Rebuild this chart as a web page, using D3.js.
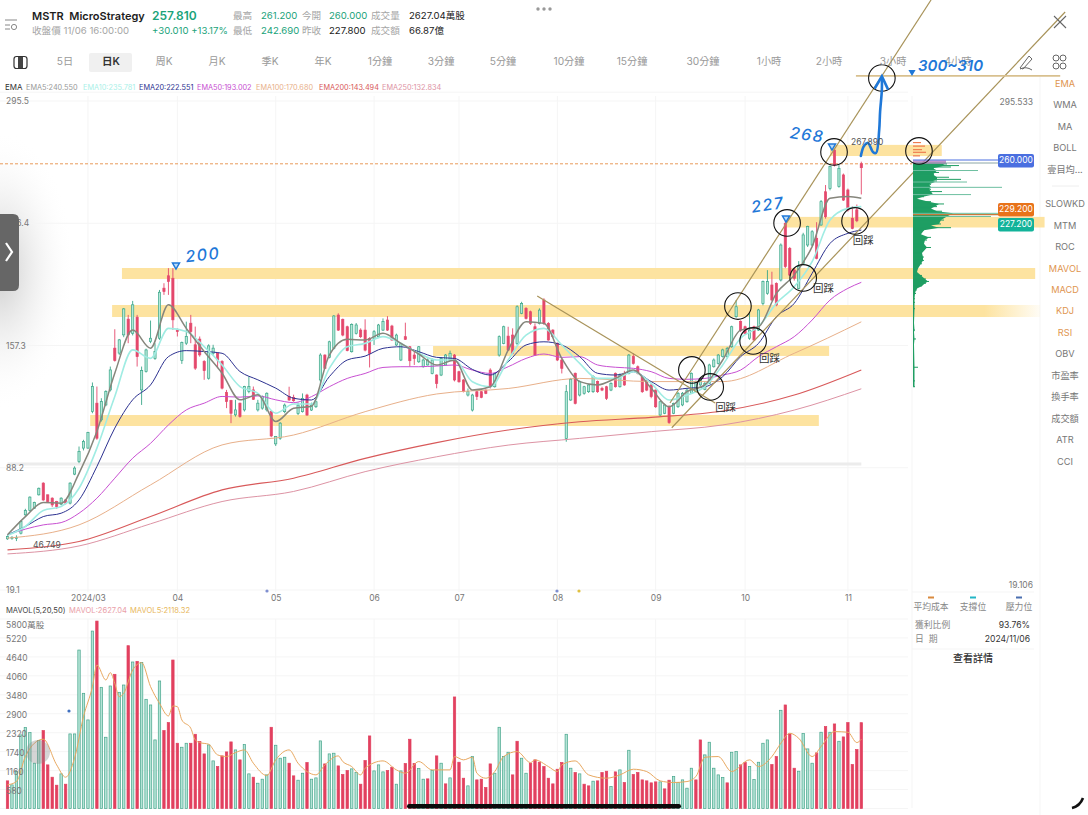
<!DOCTYPE html>
<html>
<head>
<meta charset="utf-8">
<script src="https://cdn.jsdelivr.net/npm/d3@7"></script>
<style>
html,body{margin:0;padding:0;background:#fff;overflow:hidden}
text{font-family:Inter,"Noto Sans CJK TC",sans-serif}
</style>
</head>
<body>
<div id="the_svg_wrap"></div>
<script>
// candles, one trading day per slot
const opens = [
48,48.5,48.2,51.2,61.6,64,65.3,72.9,79.5,72.9,
71,69.1,67.6,70,68.2,84.6,91.7,99.3,99.3,120,
124.7,115.3,123.7,132.2,155.8,153,163.3,172.2,164.2,173.3,
132.2,142.6,159.5,150,161.4,189.7,196.7,195.3,166.1,148.8,
158.6,169.9,157.7,160.9,148.2,138.8,152.9,152.9,148.2,130.7,
126.2,118.1,124.7,120.9,131.3,132.2,120.9,121.9,120.9,120,
101.7,104.9,119.9,128.4,128,118.9,119.9,129.3,120.8,122.7,
137.8,151.9,150.6,155.7,174.5,172.1,167.9,153.8,164.2,166,
166,161.3,161.3,162.3,166,171.7,168.3,157.6,149.1,162.3,
156.6,151.9,148.1,145.3,146.3,141.5,140.6,140.6,146.3,149.1,
151.9,142.5,137.8,129.3,120.8,131.2,131.2,132.1,143.4,134,
151.9,158.5,162.6,163.2,158.5,175.5,178.3,176.4,167.9,169.8,
183,169.8,166,158.5,149.1,104.8,126.5,141.6,129.3,130.3,
131.2,131.2,136.9,133.1,134,132.1,141.6,134,141.6,141.6,
151,145.3,139.7,137.4,135,132.1,118,119,122.7,119,
122.7,123.7,125.5,130.3,131.2,135,132.5,135.9,145.3,147.2,
151,151,156.6,173.6,170.8,167.9,161.4,167.9,166,181.1,
186.8,191.5,192.4,194.3,226.3,212.2,200,189.6,203.7,214.1,
214.1,217.9,225.4,244.2,246.1,267.8,247.1,253.7,245.2,229.2,
234,260];
const closes = [
49.3,48.9,48.8,57.8,64,71.6,68.5,76.6,70,69.1,
67.2,66.3,71,68.2,79.5,88,97.4,103,108.1,134.1,
104.9,125.6,131.3,143.5,148.8,160.5,178,163.3,180.3,151,
143.1,154.8,161.4,154,187.4,187.8,193.5,171.8,165.2,159,
162.4,165.2,144.5,152,143.1,157.1,155.8,149.2,133.2,125.6,
119,120.9,117.1,134.1,134.1,126.9,124.7,128.5,130.3,106.2,
105.8,113.4,123.6,126.5,126.1,123.6,127.4,118,123.6,125.5,
151.9,144.4,159.4,174,166,163.2,154.4,169.2,168.9,162.3,
154.7,152.9,165.1,168.9,170.8,166,160.4,163.2,158.5,160.8,
148.7,150,156.6,149.1,149.1,149.1,135.9,150,151.9,152.9,
137.8,136.8,131.2,131.2,129.3,128.4,128,130.2,134,141.5,
162.3,167.9,154.7,152.9,179.2,181.1,172.6,169.8,151.9,177.3,
169.8,160.4,162.3,149.1,144.4,131.2,138.2,124.6,136.9,134,
135,139.7,131.2,132.1,127.4,135.9,134,140.6,135,151.9,
147.2,141.6,131.2,132.1,128.4,122.7,125.5,123.7,113.7,124.6,
130.3,130.3,132.1,141.6,136.9,138.7,135.9,146.3,149.1,151.9,
154.8,155.7,167.9,179.2,166,164.2,166,160.4,177.4,193.4,
193.4,183,180.2,214.1,201.9,197.1,195.3,201.9,219.8,224.5,
221.6,206.6,238.6,230.1,258.4,259.3,257.4,239.5,233.9,223.5,
227.8,257.81];
const highs = [
50,49.5,50,58.5,65,72,69,77,80,73,
71.5,69.5,71.5,70.5,80,89,100.2,104,108.5,136.4,
134.1,127.5,132,145.4,166.5,161,178.5,174.6,182.5,174.6,
145.4,155.5,171.4,158.6,188.7,192.5,201,201,167,159.5,
170.8,174.6,168,162.4,149,158,157.7,153.5,149,132.2,
126.6,126.6,125,134.5,139.8,134.1,126.6,129,130.8,120.5,
106,114,124.5,134,129.5,125,130.2,130,125,126,
152.9,152.3,160,174.5,175.5,172.5,168.5,169.8,170,167,
172.1,162,166,169.5,172.6,173.9,169,164,159,170.2,
157,153.8,157,150,150,150,141,150.8,152.5,154.4,
152.5,143,138.3,133,130,131.5,131.5,132.5,144.4,142,
163,168.5,167.9,167,180,182,179,177,169.8,178.3,
184,170.5,166.5,159,150,135,139,142,137.5,134.5,
135.5,140.5,137.5,134,134.5,136.5,142,141.5,143,152.5,
152.9,146,140.5,138,135.5,132.5,126,124.5,123.5,125,
131,131,133,142,137.5,139.5,137,147,150,152.5,
155.5,156.5,168.5,183,171.5,168.5,175.5,168.5,178,194,
199.9,199,193,215,227.5,213,201,205,221,225,
222.5,227,239.5,248,259,268,259.5,254.5,246,236,
237,261.2];
const lows = [
47.5,47.5,46.75,50.5,61,63.5,65,72.5,69.5,68.5,
66,65,67,67.5,67.5,84,90.8,98,99,119,
104,114.3,123,131.3,148.2,152,162,158.6,163,145.4,
123.7,142,158.6,149.2,160.5,185.9,185.9,166.1,162.4,146.9,
157.6,158.6,143.5,151,137.9,138,152,144.5,132.5,121.9,
113.4,117.1,116.5,120,130.3,126.5,120,121,120,105.5,
100.5,104,119,126,125.5,118,119.4,117.5,120.3,122,
135,144,150,155,165.5,162.5,154,153.3,163.5,161.5,
154,144.9,157.6,161.5,165.5,165.5,160,157,148.5,160.4,
145.3,146.3,147.5,144.8,146,141,133.1,140,146,148.5,
137,136.3,130.8,128.5,120,126.5,127.5,129.8,133,133.5,
151,158,154.2,152.3,157.5,175,172,169,151.5,169.2,
168.9,160,161.5,148.5,141.5,102.9,126,124,128.5,129.5,
130.5,130.5,130.5,131.5,126.5,131.5,133.5,133.5,134.5,141,
146.5,141,130.5,131.5,127.5,122,117.5,118.5,113,118.5,
122,123,125,130,131,134.5,132,135.5,144.8,146.5,
150.5,150,156,173,165,163.5,160.5,160,165.5,180,
186,182.5,179.5,193.5,201,196.5,194,189,203,213,
213.5,206,225,229,245,258.5,246.5,239,233,223,
227,242.69];

// volume in 萬股, r / g is the side the bar was painted in
const volumes = [
846,723,1131,2252,2476,2323,1386,2079,2384,1335,
958,713,1060,744,2283,2283,4850,3526,2711,5431,
5737,3709,2181,3750,4107,3556,3780,4983,4484,4504,
4473,3342,3169,2099,3903,2384,2629,4545,1997,1875,
1997,1997,2272,2048,1671,1946,1457,1284,1610,1732,
2038,1793,1488,1956,1060,958,774,897,1029,2486,
1936,1539,1569,1386,999,866,1080,1406,897,937,
2069,1365,1671,1692,1304,1039,1162,1213,1101,744,
1467,2221,1151,1335,1121,1162,1264,744,1151,1376,
2120,1376,1223,897,907,1162,1610,1386,754,937,
3414,1416,927,693,1590,876,897,642,1365,1080,
2486,1590,1722,1029,2058,1539,1080,1386,1488,1416,
1284,927,754,1202,1406,2272,1233,1101,1060,744,
693,836,846,1101,1141,673,1121,1182,795,1783,
1039,1101,876,846,785,815,815,601,866,978,
795,876,622,1233,876,2099,1641,2028,1233,1029,
948,785,1722,1742,1335,1406,1284,887,1416,1997,
2099,1345,1590,3006,3169,2283,1233,1141,2293,1824,
1386,1702,2334,2507,2334,2588,2058,2191,2629,1345,
1804,2627];
const volumeSides = (
"rgggggggrr"+"rrgrgggggg"+"rgggrggrgr"+"gggggrrrrg"+"grrrrggrrr"+
"rgrggrgggr"+"gggrrggrgg"+"grggrrrggr"+"rrgggrrggr"+"rrggrgrgrg"+
"rrrggrrrrg"+"gggrrggrrr"+"rrrrrggrgr"+"rgrrrgrgrg"+"rrrrrrgrrg"+
"ggggrrgggg"+"grggrrgggg"+"grrgrrrggg"+"grgrgrgrrr"+"rr").split("");

// EMA lines on a 4 day grid, the slow ones on a 16 day grid
const emaDays = [0,4,8,12,16,20,24,28,32,36,40,44,48,52,56,60,64,68,72,76,80,84,88,92,96,100,104,108,112,116,120,124,128,132,136,140,144,148,152,156,160,164,168,172,176,180,184,188,191];
const ema5 = [50.3,60.6,68.5,68.2,85,108.7,141.6,166,155.8,180.3,167,153.9,141.6,126.6,129.4,114.3,121.8,123,151.9,160.8,160.4,164.2,158.5,152.5,146.3,149,132.1,134,154.7,170.7,169.8,150,136.9,135,138.7,143.4,133.1,122.7,131.2,135,149.1,166,167.9,186.8,197.1,213.2,240.5,241.5,240.55];
const ema10 = [50,55,64,66.3,76.6,99.3,128.5,154.8,150,167,165.2,156.7,146.3,134.1,130.3,119,124.2,124.2,144.4,156.6,158.5,162.3,158.5,152.9,149.1,149.1,136.8,134,149.1,163.2,167,157.6,147.2,138.7,138.7,142.5,135.9,126.5,129.3,134,146.3,161.4,167.9,181.1,190.5,204.7,228.2,234.8,235.78];
const ema20 = [50.3,55,60.6,62.5,70,88.9,110.6,126.6,135,151,154.4,153.9,152.9,142.6,137.9,133.2,127.5,126.5,139.7,149.1,151.3,155.7,156.6,153.8,150.6,150,143.8,140.6,148.1,157.6,159.4,157.6,151,141.6,140.6,142.5,136.9,132.1,133.1,134,139.7,151,158.5,173.6,181.1,198.1,215,220.7,222.55];
const ema50 = [50.3,53.5,55.9,57.2,62.5,71,82.3,93.6,102,112.4,120.9,124.7,128.5,128.1,128.8,126.6,125,128.4,134,138.7,141.5,144.9,145.3,145.3,145.7,146.3,143.4,141.5,145.3,150,152.5,150.6,151,146.3,145,144.4,142.5,138.7,138.2,138.7,140.6,143.4,151,156.6,162.3,171.7,183,189.6,193];
const slowDays = [0,16,32,48,64,80,96,112,128,144,160,176,191];
const ema100 = [48.4,55.9,78.5,101.1,106.7,119.9,129.9,133,138.7,136.9,136.9,152.9,170.68];
const ema200 = [41.8,46.5,60.6,75.7,82.3,93.5,102.4,109.5,114.2,116.7,120.3,129.3,143.49];
const ema250 = [39.5,44,56.5,69.1,74.8,86,94.4,101,104.8,108.6,112.4,120.8,132.83];

const mavolDays = [0,2,4,6,8,11,13,15,17,19,20,22,23,24,25,26,28,30,32,34,36,37,38,39,41,42,43,45,47,49,51,53,55,58,60,63,65,67,69,71,74,75,77,79,80,84,87,89,92,95,99,100,102,104,105,107,109,111,114,117,118,121,123,124,127,130,134,137,140,143,146,149,152,154,156,159,162,166,168,171,173,175,177,180,182,185,188,190,191];
const mavol5 = [723,825,1590,1997,2120,1335,958,1539,2812,3730,4392,3933,4158,3831,3424,3526,4239,4463,3730,3220,2833,3139,3118,2711,2456,2099,2018,1967,1641,1590,1712,1793,1386,1009,1488,1793,1386,1131,1029,1335,1610,1437,1284,1029,1233,1457,1182,1080,1437,1182,1182,1590,1488,1569,1080,927,1131,1590,1742,1406,1488,1284,1131,1335,1457,1029,927,1029,1202,1131,846,795,825,978,1569,1590,1131,1488,1284,1590,1997,2303,2150,1590,1895,2354,2334,2018,2118];

// axes
const priceTicks = [295.5,226.4,157.3,88.2,19.1];
const monthDays = [18,38,60,82,101,123,145,165,188];
const monthLabels = ["2024/03","04","05","06","07","08","09","10","11"];
const volumeTicks = [5800,5220,4640,4060,3480,2900,2320,1740,1160,580];

// chip distribution on the right: thin rows and the solid hull under them
const chipPrices = [260,259.9,259,258.2,257.5,256.2,255.1,254,252.4,251.2,250.3,249.7,248.4,246.7,245.6,244.3,242.6,241.4,240.3,238.6,237.3,235.8,234.8,233.2,232,230.2,228.2,226,225.1,223.9,222.5,220.2,218.4,216.9,214.8,212.7,209.6,207.3,205.4,203.5,200.8,198.8,196.9,194.9,193.5,192.5,191,189.5,188.7,186.7,183.7,181.7,178.1,170,166,165,161,158,145,137.3,134];
const chipWidths = [2,34,46,38,21,65,26,21,36,48,24,54,18,89,18,29,58,11,4,18,31,24,18,29,121,78,31,28,18,38,11,8,18,14,11,18,9,11,11,9,5,4,9,13,16,13,9,4,4,3,2,2,2,1,2,1,3,1,5,2,2];
const chipHull = [2,30,32,26,20,24,22,20,24,24,20,22,16,18,16,18,20,10,4,16,26,22,18,24,40,34,28,26,18,26,11,8,16,12,11,14,9,10,10,8,5,4,8,12,15,12,9,4,3,2,1.5,1.5,1.5,1,1.5,1,1.5,1,1.5,1.5,1.5];
const costPrices = [272,270,268,266.5,264.5];
const costWidths = [8,12,9,13,7];

// pen drawings over the chart, in chart units
const bandStart = [25.6,23.4,95.2,18.5,174,184];
const bandEnd = [229.9,231,183.8,181.5,232,209];
const bandTop = [201.1,180.2,157,118,230,270.7];
const bandBottom = [194.9,173.4,151.4,111.8,224,264.4];
const circleDays = [184.9,174.4,189.6,178,163.4,166.8,153.1,157.2,195.6,203.9];
const circlePrices = [266.7,226.6,227.7,195.5,179.6,159.9,143.5,133.9,308.5,267.3];
const pullbackDays = [158.3,168.1,180.2,189.1];
const pullbackPrices = [122.1,149.7,189.3,216.4];
const arrowDays = [190.9,191.6,192.5,193.6,194.3,195,195.2,195.6,195.6];
const arrowPrices = [264.4,270.1,271.8,266.7,266.1,279.1,289.3,301.8,308.5];

const width = 1088, height = 815;
const svg = d3.select("#the_svg_wrap").append("svg")
    .attr("width", width).attr("height", height).style("display","block");

const x = d3.scaleLinear().domain([0,191]).range([7.5,861.3]);
const y = d3.scaleLinear().domain([19.1,295.5]).range([590,101]);
const yVol = d3.scaleLinear().domain([0,5800]).range([808.5,619]);

const defs = svg.append("defs");
const shade = defs.append("radialGradient").attr("id","shade");
shade.append("stop").attr("offset","0%").attr("stop-color","#b9b9b9").attr("stop-opacity",0.75);
shade.append("stop").attr("offset","100%").attr("stop-color","#fff").attr("stop-opacity",0);
const fade = defs.append("linearGradient").attr("id","bandFade");
fade.append("stop").attr("offset","94%").attr("stop-color","#fde3a0");
fade.append("stop").attr("offset","100%").attr("stop-color","#fde3a0").attr("stop-opacity",0.1);

function label(t,px,py,o) {
    o = o || {};
    return svg.append("text").attr("x",px).attr("y",py).text(t)
        .attr("font-size",o.size||10.5).attr("fill",o.fill||"#9a9a9a")
        .attr("font-weight",o.weight||400).attr("text-anchor",o.anchor||"start")
        .attr("dominant-baseline","middle");
}

// ---- backdrop
svg.append("ellipse").attr("cx",0).attr("cy",270).attr("rx",75).attr("ry",140).attr("fill","url(#shade)");

// ---- grid
const grid = svg.append("g").attr("stroke","#f5f5f5").attr("stroke-width",1);
monthDays.forEach(d => {
    grid.append("line").attr("x1",x(d)).attr("x2",x(d)).attr("y1",96).attr("y2",592);
    grid.append("line").attr("x1",x(d)).attr("x2",x(d)).attr("y1",619).attr("y2",808);
});
priceTicks.concat([295.5+5]).forEach(p => grid.append("line").attr("x1",0).attr("x2",908).attr("y1",y(p)).attr("y2",y(p)));
volumeTicks.concat([0]).forEach(v => grid.append("line").attr("x1",0).attr("x2",908).attr("y1",yVol(v)).attr("y2",yVol(v)));
grid.append("line").attr("x1",912).attr("x2",912).attr("y1",96).attr("y2",808);
grid.append("line").attr("x1",1040).attr("x2",1040).attr("y1",76).attr("y2",815);
grid.append("line").attr("x1",912).attr("x2",1034).attr("y1",592).attr("y2",592);
grid.append("line").attr("x1",912).attr("x2",1034).attr("y1",649).attr("y2",649);

// ---- yellow bands
svg.append("g").selectAll("rect").data(bandStart).join("rect")
    .attr("x",d => x(d))
    .attr("width",(d,i) => x(bandEnd[i])-x(d))
    .attr("y",(d,i) => y(bandTop[i]))
    .attr("height",(d,i) => y(bandBottom[i])-y(bandTop[i]))
    .attr("fill",(d,i) => i==1 ? "url(#bandFade)" : "#fde3a0");

// thick grey drawing at the foot of the base
svg.append("line").attr("x1",x(0)).attr("x2",x(191)).attr("y1",y(90.3)).attr("y2",y(90.3))
    .attr("stroke","#ececec").attr("stroke-width",3);

// ---- last price
svg.append("line").attr("x1",0).attr("x2",912).attr("y1",y(260)).attr("y2",y(260))
    .attr("stroke","#e89a5a").attr("stroke-width",1).attr("stroke-dasharray","3,2");

// ---- candles
const upColor = "#3aa689", upFill = "#b4e8d8", downColor = "#e4486c";
const candle = svg.append("g").selectAll("g").data(opens).join("g");
candle.append("line")
    .attr("x1",(d,i) => x(i)).attr("x2",(d,i) => x(i))
    .attr("y1",(d,i) => y(highs[i])).attr("y2",(d,i) => y(lows[i]))
    .attr("stroke",(d,i) => closes[i]>=d ? upColor : downColor).attr("stroke-width",0.9);
candle.append("rect")
    .attr("x",(d,i) => x(i)-1.1).attr("width",2.2)
    .attr("y",(d,i) => y(Math.max(d,closes[i])))
    .attr("height",(d,i) => Math.max(1,Math.abs(y(d)-y(closes[i]))))
    .attr("fill",(d,i) => closes[i]>=d ? upFill : downColor)
    .attr("stroke",(d,i) => closes[i]>=d ? upColor : downColor).attr("stroke-width",0.7);

// ---- EMA lines
const emaLine = (days) => d3.line().x((d,i) => x(days[i])).y(d => y(d)).curve(d3.curveMonotoneX);
[[ema250,slowDays,"#dd93a4",1],[ema200,slowDays,"#d8595a",1.1],[ema100,slowDays,"#e8b08a",1],
 [ema50,emaDays,"#c84fd2",1],[ema20,emaDays,"#2c3190",1],[ema10,emaDays,"#a0ece3",1.6],[ema5,emaDays,"#86867c",1.5]]
.forEach(s => {
    svg.append("path").attr("d",emaLine(s[1])(s[0])).attr("fill","none")
        .attr("stroke",s[2]).attr("stroke-width",s[3]);
});

// ---- price axis and month axis
const priceAxis = svg.append("g").attr("transform","translate(6,0)")
    .call(d3.axisRight(y).tickValues(priceTicks).tickSize(0).tickFormat(d3.format(".1f")));
priceAxis.select(".domain").remove();
priceAxis.selectAll("text").attr("x",0).attr("font-size",8.5).attr("fill","#777").style("font-family","Inter");

const monthAxis = svg.append("g").attr("transform","translate(0,592)")
    .call(d3.axisBottom(x).tickValues(monthDays).tickSize(0).tickFormat((d,i) => monthLabels[i]));
monthAxis.select(".domain").remove();
monthAxis.selectAll("text").attr("y",3).attr("font-size",8.5).attr("fill","#777").style("font-family","Inter");

// ---- trend lines
const trendX = [[148.2,206.6],[148.6,236.6],[189.8,235.5],[118.5,158.3]];
const trendY = [[124.8,352.6],[110.8,345.8],[309.7,309.7],[185.3,124.8]];
svg.append("g").selectAll("line").data(trendX).join("line")
    .attr("x1",d => x(d[0])).attr("x2",d => x(d[1]))
    .attr("y1",(d,i) => y(trendY[i][0])).attr("y2",(d,i) => y(trendY[i][1]))
    .attr("stroke",(d,i) => i==2 ? "#d8c08f" : "#a8935a")
    .attr("stroke-width",(d,i) => i==2 ? 1.6 : 1.2);

// ---- chip distribution
const xChip = d3.scaleLinear().domain([0,130]).range([913,1043]);
svg.append("path")
    .attr("d",d3.area().y(d => y(d)).x0(xChip(0)).x1((d,i) => xChip(chipHull[i])).curve(d3.curveLinear)(chipPrices))
    .attr("fill","#1f9e63");
svg.append("g").selectAll("line").data(chipPrices).join("line")
    .attr("x1",xChip(0)).attr("x2",(d,i) => xChip(chipWidths[i]))
    .attr("y1",d => y(d)).attr("y2",d => y(d))
    .attr("stroke",(d,i) => chipWidths[i]>50 ? "#6dbfa0" : "#1f9e63").attr("stroke-width",1);
svg.append("g").selectAll("line").data(costPrices).join("line")
    .attr("x1",xChip(0)).attr("x2",(d,i) => xChip(costWidths[i]))
    .attr("y1",d => y(d)).attr("y2",d => y(d))
    .attr("stroke","#ee7b4f").attr("stroke-width",1.2);
svg.append("rect").attr("x",913).attr("y",y(262)).attr("width",33).attr("height",3.5).attr("fill","#b57bc0").attr("opacity",0.8);
svg.append("line").attr("x1",913).attr("x2",1000).attr("y1",160).attr("y2",160).attr("stroke","#4a6fe0").attr("stroke-width",1);
svg.append("line").attr("x1",913).attr("x2",1000).attr("y1",163).attr("y2",163).attr("stroke","#6f8f8f").attr("stroke-width",0.8);
svg.append("line").attr("x1",913).attr("x2",1000).attr("y1",214.7).attr("y2",214.7).attr("stroke","#c97a3a").attr("stroke-width",1.2);

[["260.000",154,"#4a6fe0"],["229.200",203,"#e8731a"],["227.200",218,"#12b39a"]].forEach(p => {
    svg.append("rect").attr("x",998).attr("y",p[1]).attr("width",36).attr("height",13.5).attr("rx",2).attr("fill",p[2]);
    label(p[0],1016,p[1]+7,{size:8.5,fill:"#fff",anchor:"middle"});
});

// ---- pen circles
svg.append("g").selectAll("circle").data(circleDays).join("circle")
    .attr("cx",d => x(d)).attr("cy",(d,i) => y(circlePrices[i])).attr("r",13.3)
    .attr("fill","none").attr("stroke","#111").attr("stroke-width",1.1);

pullbackDays.forEach((d,i) => label("回踩",x(d),y(pullbackPrices[i]),{size:10.5,fill:"#333"}));

// ---- pen arrow and numbers
const pen = "#1f78d8";
svg.append("path")
    .attr("d",d3.line().x((d,i) => x(arrowDays[i])).y(d => y(d)).curve(d3.curveCatmullRom)(arrowPrices))
    .attr("fill","none").attr("stroke",pen).attr("stroke-width",2.6).attr("stroke-linecap","round");
svg.append("path")
    .attr("d",d3.line().x((d,i) => x([194.1,195.6,196.9][i])).y(d => y(d))([303,309.5,302.5]))
    .attr("fill","none").attr("stroke",pen).attr("stroke-width",2.6).attr("stroke-linecap","round");

const penMark = [[176,265,"200",203,256,-6,16],[786,218,"227",768,206,-8,16],[832,146,"268",807,136,8,16]];
penMark.forEach(m => {
    svg.append("path").attr("d",d3.symbol(d3.symbolTriangle,22)())
        .attr("transform",`translate(${m[0]},${m[1]}) rotate(180)`)
        .attr("fill","#bcdcf8").attr("stroke",pen).attr("stroke-width",1.4);
    svg.append("text").attr("transform",`translate(${m[3]},${m[4]}) rotate(${m[5]})`)
        .attr("text-anchor","middle").attr("dominant-baseline","middle")
        .attr("font-size",m[6]).attr("font-style","italic").attr("font-weight",500)
        .attr("letter-spacing",1.5).attr("fill",pen).text(m[2]);
});

// ---- text marks on the price pane
label("46.749",33,546,{size:8.5,fill:"#555"});
label("267.890",851,143,{size:8.5,fill:"#555"});
label("295.533",1033,103,{size:8.5,fill:"#777",anchor:"end"});
label("19.106",1033,586,{size:8.5,fill:"#777",anchor:"end"});

// ---- volume
svg.append("g").selectAll("rect").data(volumes).join("rect")
    .attr("x",(d,i) => x(i)-1.2).attr("width",2.4)
    .attr("y",d => yVol(d)).attr("height",d => yVol(0)-yVol(d))
    .attr("fill",(d,i) => volumeSides[i]=="g" ? "#b4e4d6" : "#e2405f")
    .attr("stroke",(d,i) => volumeSides[i]=="g" ? "#46a58c" : "#e2405f").attr("stroke-width",0.7);
svg.append("path")
    .attr("d",d3.line().x((d,i) => x(mavolDays[i])).y(d => yVol(d)).curve(d3.curveMonotoneX)(mavol5))
    .attr("fill","none").attr("stroke","#e8a860").attr("stroke-width",1);

const volumeAxis = svg.append("g").attr("transform","translate(6,0)")
    .call(d3.axisRight(yVol).tickValues(volumeTicks).tickSize(0).tickFormat(d => d==5800 ? "5800萬股" : d));
volumeAxis.select(".domain").remove();
volumeAxis.selectAll("text").attr("x",0).attr("font-size",8.5).attr("fill","#777")
    .attr("transform",d => d==5800 ? "translate(0,6)" : "translate(0,1)");

// ---- legends
label("EMA",5,88,{size:8,fill:"#333"});
[["EMA5:240.550",26,"#999"],["EMA10:235.781",83,"#aaf0e8"],["EMA20:222.551",139,"#2c3190"],["EMA50:193.002",197,"#c84fd2"],
 ["EMA100:170.680",256,"#e8b08a"],["EMA200:143.494",319,"#d8595a"],["EMA250:132.834",382,"#dd93a4"]]
.forEach(l => label(l[0],l[1],88,{size:7.3,fill:l[2]}));
label("MAVOL(5,20,50)",6,611,{size:7.6,fill:"#444"});
label("MAVOL:2627.04",69,611,{size:7.6,fill:"#eaa0a8"});
label("MAVOL5:2118.32",130,611,{size:7.6,fill:"#e8b860"});

// ---- header
label("MSTR  MicroStrategy",32,17,{size:11,fill:"#1d1d1d",weight:600}).style("white-space","pre");
label("257.810",152,17,{size:12,fill:"#1aa37a",weight:600});
label("收盤價 11/06 16:00:00",32,31,{size:9.6,fill:"#a5a5a5"});
label("+30.010 +13.17%",152,31,{size:9.6,fill:"#1aa37a"});
[["最高",233,16],["今開",302,16],["成交量",371,16],["最低",233,31],["昨收",302,31],["成交額",371,31]]
.forEach(l => label(l[0],l[1],l[2],{size:9.6,fill:"#a5a5a5"}));
[["261.200",261,16,"#1aa37a"],["260.000",329,16,"#1aa37a"],["2627.04萬股",409,16,"#222"],
 ["242.690",261,31,"#1aa37a"],["227.800",329,31,"#222"],["66.87億",409,31,"#222"]]
.forEach(l => label(l[0],l[1],l[2],{size:9.6,fill:l[3]}));
[538,544,550].forEach(c => svg.append("circle").attr("cx",c).attr("cy",9).attr("r",1.7).attr("fill","#999"));

// small menu icon
svg.append("g").attr("stroke","#888").attr("stroke-width",1).attr("fill","none").call(g => {
    g.append("line").attr("x1",5).attr("x2",17).attr("y1",20).attr("y2",20);
    g.append("line").attr("x1",5).attr("x2",10).attr("y1",25).attr("y2",25);
    g.append("line").attr("x1",5).attr("x2",10).attr("y1",29).attr("y2",29);
    g.append("circle").attr("cx",14).attr("cy",27).attr("r",2.6);
});

// close button
svg.append("g").attr("stroke","#666").attr("stroke-width",1.1).call(g => {
    g.append("line").attr("x1",1054).attr("x2",1066).attr("y1",16).attr("y2",28);
    g.append("line").attr("x1",1066).attr("x2",1054).attr("y1",16).attr("y2",28);
});

// ---- period tabs
svg.append("rect").attr("x",89).attr("y",53).attr("width",43).attr("height",19).attr("rx",2).attr("fill","#f0f0f0");
svg.append("rect").attr("x",14).attr("y",56.5).attr("width",13).attr("height",12).attr("rx",2.5).attr("fill","none").attr("stroke","#333").attr("stroke-width",1.2);
svg.append("rect").attr("x",18).attr("y",57).attr("width",5).attr("height",11).attr("fill","#444");
[["5日",65],["周K",164],["月K",217],["季K",270],["年K",323],["1分鐘",380],["3分鐘",441],["5分鐘",503],["10分鐘",569],
 ["15分鐘",632],["30分鐘",703],["1小時",769],["2小時",829],["3小時",893],["4小時",958]]
.forEach(l => label(l[0],l[1],62,{size:10.2,anchor:"middle",fill:"#9a9a9a"}));
label("日K",111,62,{size:10.5,anchor:"middle",fill:"#333",weight:600});

// pencil and widget icons
svg.append("path").attr("d","M1020 68 L1029 56 L1032 59 L1023 69 Z M1020 69 Q1026 66 1032 70")
    .attr("fill","none").attr("stroke","#666").attr("stroke-width",1);
[[1056,58],[1063,58],[1056,66],[1063,66]].forEach(c =>
    svg.append("circle").attr("cx",c[0]).attr("cy",c[1]).attr("r",3).attr("fill","none").attr("stroke","#666"));

// ---- pen note over the tabs
svg.append("path").attr("d",d3.symbol(d3.symbolTriangle,22)()).attr("transform","translate(912,72) rotate(180)").attr("fill",pen);
svg.append("text").attr("x",918).attr("y",67).attr("font-size",15).attr("font-style","italic").attr("font-weight",600)
    .attr("dominant-baseline","middle").attr("fill",pen).text("300~310");

// ---- indicator list
[["EMA",84,1],["WMA",105],["MA",127],["BOLL",148],["壹目均...",170],["SLOWKD",204],["MTM",226],["ROC",247],["MAVOL",269,1],
 ["MACD",290,1],["KDJ",311,1],["RSI",333,1],["OBV",354],["市盈率",376],["換手率",397],["成交額",419],["ATR",440],["CCI",462]]
.forEach(l => label(l[0],1065,l[1],{size:9.2,anchor:"middle",fill:l[2] ? "#e0954f" : "#777"}));
svg.append("line").attr("x1",1052).attr("x2",1079).attr("y1",186).attr("y2",186).attr("stroke","#eee");

// ---- chip panel footer
[["#d98a3e",931,"平均成本"],["#22b6c6",973,"支撐位"],["#4a6fb0",1019,"壓力位"]].forEach(l => {
    svg.append("rect").attr("x",l[1]-3).attr("y",596.5).attr("width",6).attr("height",2).attr("fill",l[0]);
    label(l[2],l[1],608,{size:8.8,anchor:"middle",fill:"#888"});
});
label("獲利比例",915,626,{size:8.8,fill:"#888"});
label("93.76%",1030,626,{size:8.6,fill:"#333",anchor:"end"});
label("日  期",915,640,{size:8.8,fill:"#888"}).style("white-space","pre");
label("2024/11/06",1030,640,{size:8.6,fill:"#333",anchor:"end"});
label("查看詳情",973,659,{size:10,fill:"#333",anchor:"middle",weight:500});

// ---- dots on the chart
[[267,591,"#7f8fd0"],[557,591,"#7f8fd0"],[579,591,"#e0c040"],[69,711,"#3f70c0"]].forEach(d =>
    svg.append("circle").attr("cx",d[0]).attr("cy",d[1]).attr("r",1.6).attr("fill",d[2]));

// ---- screen overlays
svg.append("circle").attr("cx",38).attr("cy",752).attr("r",12).attr("fill","#888").attr("opacity",0.35);
svg.append("path").attr("d","M0 214 H13 Q19 214 19 220 V285 Q19 291 13 291 H0 Z").attr("fill","#666");
svg.append("path").attr("d","M6 243 L12 252 L6 261").attr("fill","none").attr("stroke","#fff").attr("stroke-width",2.2);
svg.append("rect").attr("x",407).attr("y",804).attr("width",274).attr("height",4.5).attr("rx",2.2).attr("fill","#0a0a0a");
svg.append("path").attr("d","M1072 808 Q1080 806 1083 798").attr("fill","none").attr("stroke","#111").attr("stroke-width",2.6);
</script>
</body>
</html>
